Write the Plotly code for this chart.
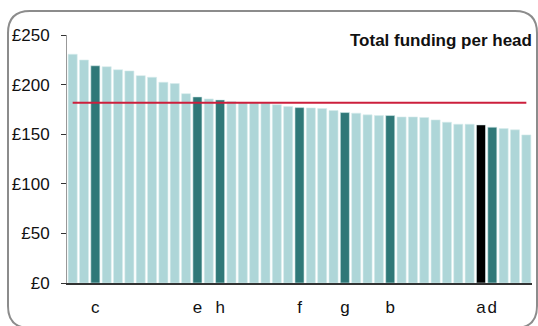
import plotly.graph_objects as go

# ---- data ----
funding_per_head = [230.6, 224.8, 219.0, 218.0, 215.0, 213.8, 209.0, 207.4, 202.4, 201.0,
                    190.9, 187.6, 185.6, 184.6, 182.9, 182.0, 182.0, 181.5, 179.8, 177.8,
                    176.8, 176.5, 175.8, 173.8, 171.8, 171.2, 169.5, 168.8, 168.8, 167.4,
                    167.4, 166.8, 164.4, 162.1, 160.1, 160.1, 159.4, 157.1, 155.7, 154.4,
                    149.3]
bar_labels = ["", "", "c", "", "", "", "", "", "", "",
              "", "e", "", "h", "", "", "", "", "", "",
              "f", "", "", "", "g", "", "", "", "b", "",
              "", "", "", "", "", "", "a", "d", "", "",
              ""]
selected_label = "a"
y_ticks = [0, 50, 100, 150, 200, 250]
title_text = "Total funding per head"

# ---- styling ----
LIGHT = "#aed6d8"
DARK = "#2f7878"
BLACK = "#000000"
RED = "#cc1f3c"
FONT = "Liberation Sans, Arial, sans-serif"

W, H = 538, 326
L, R, T, B = 67, 6, 35, 43
PW, PH = W - L - R, H - T - B

n = len(funding_per_head)
xs = list(range(n))
colors = []
for lab in bar_labels:
    if lab == selected_label:
        colors.append(BLACK)
    elif lab:
        colors.append(DARK)
    else:
        colors.append(LIGHT)

mean_val = sum(funding_per_head) / n

fig = go.Figure()
fig.add_trace(go.Bar(
    x=xs, y=funding_per_head,
    marker=dict(color=colors, line=dict(color="#d6ecec", width=0.6)),
    hoverinfo="y", showlegend=False,
))
fig.add_trace(go.Scatter(
    x=[xs[0], xs[-1]], y=[mean_val, mean_val], mode="lines",
    line=dict(color=RED, width=2), hoverinfo="skip", showlegend=False,
))

tick_idx = [i for i, lab in enumerate(bar_labels) if lab]
tick_txt = [bar_labels[i] for i in tick_idx]


def px(x):
    return (x - L) / PW


def py(y):
    return (H - B - y) / PH


# rounded frame (pixel coordinates converted to paper)
x0, y0, x1, y1, r = 8, 11, 537, 328, 22
pts = [
    ("M", x0 + r, y0), ("L", x1 - r, y0), ("Q", x1, y0, x1, y0 + r),
    ("L", x1, y1 - r), ("Q", x1, y1, x1 - r, y1),
    ("L", x0 + r, y1), ("Q", x0, y1, x0, y1 - r),
    ("L", x0, y0 + r), ("Q", x0, y0, x0 + r, y0),
]
path = ""
for p in pts:
    cmd = p[0]
    coords = p[1:]
    segs = []
    for k in range(0, len(coords), 2):
        segs.append(f"{px(coords[k]):.5f},{py(coords[k+1]):.5f}")
    path += cmd + " ".join(segs) + " "
path += "Z"

fig.update_layout(
    width=W, height=H,
    margin=dict(l=L, r=R, t=T, b=B),
    paper_bgcolor="white", plot_bgcolor="white",
    bargap=0.2,
    font=dict(family=FONT, size=17, color="#111111"),
    shapes=[dict(type="path", xref="paper", yref="paper", path=path,
                 line=dict(color="#8c8c8c", width=2), layer="below")],
    annotations=[dict(text="<b>" + title_text + "</b>", xref="paper", yref="paper",
                      x=px(534), y=py(41), xanchor="right", yanchor="middle",
                      showarrow=False, font=dict(family=FONT, size=17, color="#111111"))],
)
fig.update_xaxes(
    range=[-0.5, n - 0.5], tickmode="array", tickvals=tick_idx, ticktext=tick_txt,
    tickangle=0,
    showline=True, linecolor="#333333", linewidth=1.5,
    ticks="outside", ticklen=8, tickcolor="rgba(0,0,0,0)",
    showgrid=False, zeroline=False, fixedrange=True,
)
fig.update_yaxes(
    range=[0, 250], tickmode="array", tickvals=y_ticks,
    ticktext=[f"£{v}" for v in y_ticks],
    showline=True, linecolor="#999999", linewidth=1,
    ticks="outside", ticklen=5, tickcolor="#333333",
    ticklabelstandoff=8,
    showgrid=False, zeroline=False, fixedrange=True,
)

fig.write_html("out.html", config={"displayModeBar": False},
               post_script="document.body.style.margin='0';document.body.style.overflow='hidden';")
